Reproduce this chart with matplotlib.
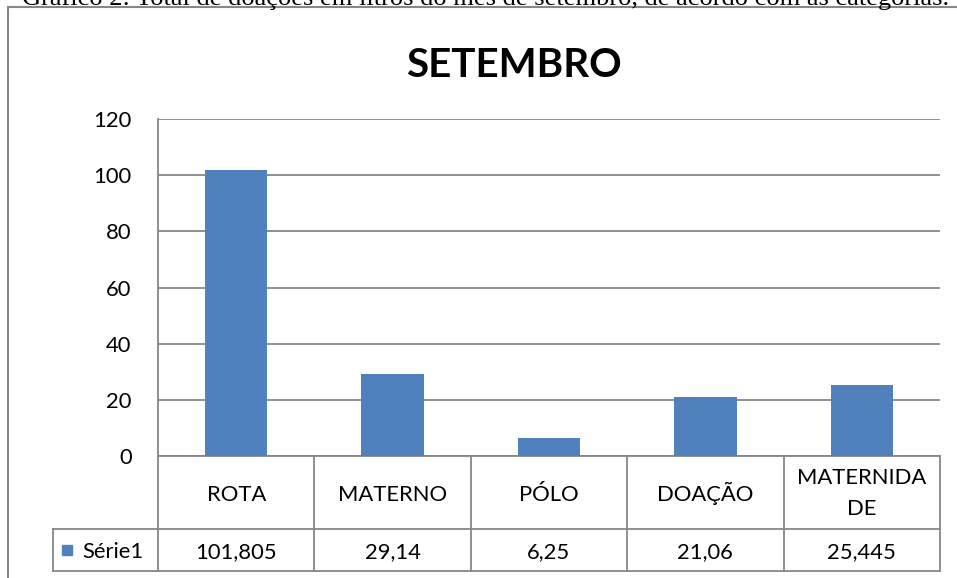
import matplotlib.pyplot as plt
from matplotlib.lines import Line2D
from matplotlib.patches import Rectangle

plt.rcParams['font.family'] = ['Lato', 'DejaVu Sans']

# dados do gráfico
categorias = ['ROTA', 'MATERNO', 'PÓLO', 'DOAÇÃO', 'MATERNIDA\nDE']
valores = [101.805, 29.14, 6.25, 21.06, 25.445]
serie = 'Série1'
titulo = 'SETEMBRO'
legenda_fig = 'Gráfico 2: Total de doações em litros do mês de setembro, de acordo com as categorias.'
yticks = [0, 20, 40, 60, 80, 100, 120]

azul = '#4F81BD'
cinza = '#878787'
W, H = 957, 578

def fx(px):
    return px / W

def fy(py):
    return 1 - py / H

fig = plt.figure(figsize=(W / 100, H / 100), dpi=100)

# moldura do gráfico (cortada pela página)
fig.add_artist(Line2D([fx(8), fx(8)], [fy(7), 0], color=cinza, lw=1.5))
fig.add_artist(Line2D([fx(8), 1], [fy(7), fy(7)], color=cinza, lw=1.5))

# legenda da figura, parcialmente cortada no topo (como no original)
fig.text(fx(22), fy(5), legenda_fig, family='Liberation Serif', fontsize=19,
         va='baseline', ha='left')

# área de plotagem
x0, x1, y0, y1 = 158, 940, 119, 456
ax = fig.add_axes([fx(x0), fy(y1), (x1 - x0) / W, (y1 - y0) / H])
pos = range(len(categorias))
ax.bar(pos, valores, width=0.4, color=azul, zorder=3)
ax.set_xlim(-0.5, len(categorias) - 0.5)
ax.set_ylim(0, 120)
ax.set_yticks(yticks)
ax.set_xticks([])
ax.yaxis.grid(True, color=cinza, lw=1.3)
ax.tick_params(axis='y', length=0, pad=19, labelsize=15.8)
for s in ['top', 'right']:
    ax.spines[s].set_visible(False)
for s in ['left', 'bottom']:
    ax.spines[s].set_color(cinza)
    ax.spines[s].set_linewidth(1.3)

fig.text(fx(514), fy(77), titulo, ha='center', va='baseline',
         fontsize=29, fontweight='bold')

# tabela de dados
larg = (x1 - x0) / len(categorias)

def xd(px):
    return -0.5 + (px - x0) / larg

def ya(py):
    return (y1 - py) / (y1 - y0)

tr = ax.get_xaxis_transform()
r1, r2 = 529, 571
leg_x = 53
for i in range(len(categorias) + 1):
    ax.add_line(Line2D([i - 0.5, i - 0.5], [ya(y1), ya(r2)], transform=tr,
                       color=cinza, lw=1.3, clip_on=False))
for py in [r1, r2]:
    ax.add_line(Line2D([xd(leg_x), len(categorias) - 0.5], [ya(py), ya(py)],
                       transform=tr, color=cinza, lw=1.3, clip_on=False))
ax.add_line(Line2D([xd(leg_x), xd(leg_x)], [ya(r1), ya(r2)], transform=tr,
                   color=cinza, lw=1.3, clip_on=False))

for i, (c, v) in enumerate(zip(categorias, valores)):
    extra = c.count('\n')
    ax.text(i, ya(501 + 14 * extra), c, transform=tr, ha='center',
            va='baseline', fontsize=15.8, linespacing=1.7)
    ax.text(i, ya(558), f'{v:g}'.replace('.', ','), transform=tr,
            ha='center', va='baseline', fontsize=15.8)

fig.add_artist(Rectangle((fx(62), fy(555)), 10 / W, 10 / H, color=azul))
fig.text(fx(82), fy(558), serie, ha='left', va='baseline', fontsize=15.8)

fig.savefig('out.png', dpi=100)
